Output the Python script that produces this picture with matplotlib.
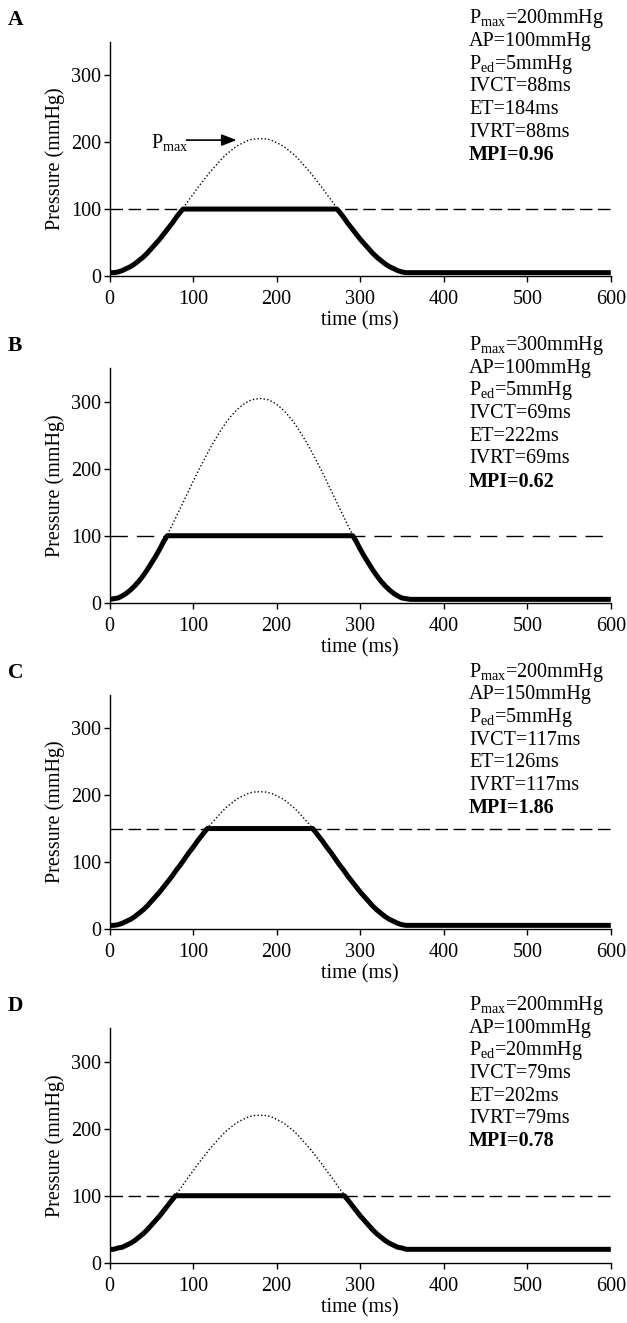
import numpy as np
import matplotlib
matplotlib.use('Agg')
import matplotlib.pyplot as plt

plt.rcParams['font.family'] = ['Liberation Serif', 'DejaVu Serif']
plt.rcParams['mathtext.fontset'] = 'custom'
plt.rcParams['mathtext.rm'] = 'Liberation Serif'
plt.rcParams['mathtext.it'] = 'Liberation Serif:italic'
plt.rcParams['mathtext.bf'] = 'Liberation Serif:bold'

# time grid of the simulated pressure curve (ms)
t_curve = np.arange(0, 361, 5)

# ventricular pressure (mmHg), 0..360 ms
p_a = [5, 5, 6, 8, 11, 14, 18, 23, 28, 34, 41, 48, 55, 63, 71, 79, 88, 96, 105, 114,
       122, 131, 139, 147, 155, 162, 169, 176, 182, 187, 192, 196, 199, 202, 204, 205, 205,
       205, 204, 202, 199, 196, 192, 187, 182, 176, 169, 162, 155, 147, 139, 131, 122, 114,
       105, 96, 88, 79, 71, 63, 55, 48, 41, 34, 28, 23, 18, 14, 11, 8, 6, 5, 5]
p_b = [5, 6, 7, 10, 14, 19, 25, 32, 40, 49, 59, 69, 80, 92, 104, 116, 129, 142, 155, 168,
       181, 194, 206, 218, 230, 241, 251, 261, 270, 278, 285, 291, 296, 300, 303, 304, 305,
       304, 303, 300, 296, 291, 285, 278, 270, 261, 251, 241, 230, 218, 206, 194, 181, 168,
       155, 142, 129, 116, 104, 92, 80, 69, 59, 49, 40, 32, 25, 19, 14, 10, 7, 6, 5]
p_c = [5, 5, 6, 8, 11, 14, 18, 23, 28, 34, 41, 48, 55, 63, 71, 79, 88, 96, 105, 114,
       122, 131, 139, 147, 155, 162, 169, 176, 182, 187, 192, 196, 199, 202, 204, 205, 205,
       205, 204, 202, 199, 196, 192, 187, 182, 176, 169, 162, 155, 147, 139, 131, 122, 114,
       105, 96, 88, 79, 71, 63, 55, 48, 41, 34, 28, 23, 18, 14, 11, 8, 6, 5, 5]
p_d = [20, 20, 22, 23, 26, 29, 33, 38, 43, 49, 56, 63, 70, 78, 86, 94, 103, 111, 120, 129,
       137, 146, 154, 162, 170, 177, 184, 191, 197, 202, 207, 211, 214, 217, 219, 220, 220,
       220, 219, 217, 214, 211, 207, 202, 197, 191, 184, 177, 170, 162, 154, 146, 137, 129,
       120, 111, 103, 94, 86, 78, 70, 63, 56, 49, 43, 38, 33, 29, 26, 23, 22, 20, 20]

panel_names = ['A', 'B', 'C', 'D']
pmax = [200, 300, 200, 200]
ap = [100, 100, 150, 100]
ped = [5, 5, 5, 20]
ivct = [88, 69, 117, 79]
et = [184, 222, 126, 202]
ivrt = [88, 69, 117, 79]
mpi = ['0.96', '0.62', '1.86', '0.78']
curves = [p_a, p_b, p_c, p_d]

W, H = 627, 1323
fig = plt.figure(figsize=(W / 100, H / 100), dpi=100)

ax_left = 109.6
ax_right = 610.8
tops = [41.7, 368.3, 695.0, 1028.3]
bottoms = [276.0, 602.7, 928.7, 1262.7]
dash_styles = [(9, 4), (12.5, 6.5), (9, 4), (9, 4)]
fs = 14.5

for i in range(4):
    top, bot = tops[i], bottoms[i]
    ax = fig.add_axes([ax_left / W, 1 - bot / H, (ax_right - ax_left) / W, (bot - top) / H])

    t = t_curve
    p = np.array(curves[i])
    # dotted: full isovolumic pressure curve
    ax.plot(np.append(t, 600), np.append(p, ped[i]), color='k', lw=1,
            linestyle=(0, (1, 1.6)))
    # dashed: aortic pressure
    ax.axhline(ap[i], color='k', lw=1, linestyle=(0, dash_styles[i]))
    # thick: actual ventricular pressure
    t_open = ivct[i]
    t_close = ivct[i] + et[i]
    thick_t = np.concatenate([t[t < t_open], [t_open, t_close], t[t > t_close], [600]])
    thick_p = np.concatenate([p[t < t_open], [ap[i], ap[i]], p[t > t_close], [ped[i]]])
    ax.plot(thick_t, thick_p, color='k', lw=3.6, solid_capstyle='butt',
            solid_joinstyle='round')

    ax.set_xlim(0, 600)
    ax.set_ylim(0, 350)
    ax.set_xticks([0, 100, 200, 300, 400, 500, 600])
    ax.set_yticks([0, 100, 200, 300])
    ax.spines['top'].set_visible(False)
    ax.spines['right'].set_visible(False)
    ax.spines['left'].set_linewidth(1)
    ax.spines['bottom'].set_linewidth(1)
    ax.tick_params(axis='both', direction='out', length=4, width=1, labelsize=fs)
    ax.tick_params(axis='x', pad=6)
    ax.tick_params(axis='y', pad=2)
    ax.set_xlabel('time (ms)', fontsize=fs, labelpad=2)
    ax.set_ylabel('Pressure (mmHg)', fontsize=fs, labelpad=4.5)

    # panel letter
    fig.text(8 / W, 1 - (top - 22) / H, panel_names[i], fontsize=fs + 1,
             fontweight='bold', va='center', ha='left')

    # parameter block
    lines = ['P$_{\\mathrm{max}}$=%dmmHg' % pmax[i],
             'AP=%dmmHg' % ap[i],
             'P$_{\\mathrm{ed}}$=%dmmHg' % ped[i],
             'IVCT=%dms' % ivct[i],
             'ET=%dms' % et[i],
             'IVRT=%dms' % ivrt[i]]
    y0 = top - 23
    for k, s in enumerate(lines):
        fig.text(469 / W, 1 - (y0 + k * 22.7) / H, s, fontsize=fs,
                 va='center', ha='left')
    fig.text(469 / W, 1 - (y0 + 6 * 22.7) / H, 'MPI=' + mpi[i], fontsize=fs,
             fontweight='bold', va='center', ha='left')

    if i == 0:
        ax.annotate('', xy=(152, 203), xytext=(92, 203),
                    arrowprops=dict(arrowstyle='-|>,head_length=0.9,head_width=0.35',
                                    color='k', lw=1.2, shrinkA=0, shrinkB=0))
        ax.text(50, 200, 'P$_{\\mathrm{max}}$', fontsize=fs, va='center', ha='left')

fig.savefig('out.png', dpi=100)
